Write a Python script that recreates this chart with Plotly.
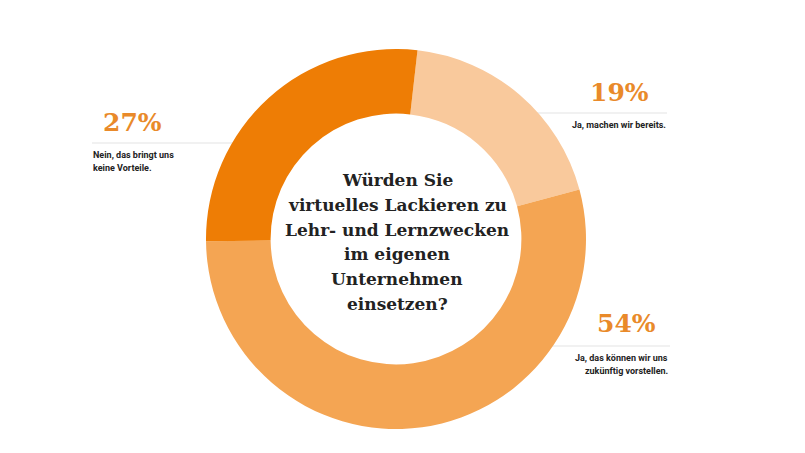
import plotly.graph_objects as go

W, H = 805, 453

labels = ["Ja, machen wir bereits.", "Ja, das können wir uns zukünftig vorstellen.", "Nein, das bringt uns keine Vorteile."]
values = [19, 54, 27]
pct_text = ["19%", "54%", "27%"]
colors = ["#F9C99C", "#F4A553", "#EE7D05"]
question_lines = ["Würden Sie", "virtuelles Lackieren zu", "Lehr- und Lernzwecken", "im eigenen", "Unternehmen", "einsetzen?"]


def fx(px):
    return px / W


def fy(py):
    return 1 - py / H


cx, cy, r = 396, 239, 190

fig = go.Figure(go.Pie(
    labels=labels, values=values, sort=False, direction="clockwise", rotation=6.5,
    hole=0.66, textinfo="none", hoverinfo="label+percent",
    marker=dict(colors=colors, line=dict(width=0)),
    domain=dict(x=[fx(cx - r), fx(cx + r)], y=[fy(cy + r), fy(cy - r)]),
    showlegend=False,
))

ann = []
qy0, qstep = 180, 24.8
for i, line in enumerate(question_lines):
    ann.append(dict(x=fx(cx + 1), y=fy(qy0 + i * qstep), xref="paper", yref="paper", text="<b>" + line + "</b>",
                    showarrow=False, xanchor="center", yanchor="middle",
                    font=dict(family="DejaVu Serif", size=17, color="#222222")))

pct_color = "#E98A2A"
pct_font = dict(family="DejaVu Serif", size=25, color=pct_color)
ann.append(dict(x=fx(619), y=fy(93), xref="paper", yref="paper", text="<b>" + pct_text[0] + "</b>", showarrow=False,
                xanchor="center", yanchor="middle", font=pct_font))
ann.append(dict(x=fx(626), y=fy(323), xref="paper", yref="paper", text="<b>" + pct_text[1] + "</b>", showarrow=False,
                xanchor="center", yanchor="middle", font=pct_font))
ann.append(dict(x=fx(132), y=fy(122), xref="paper", yref="paper", text="<b>" + pct_text[2] + "</b>", showarrow=False,
                xanchor="center", yanchor="middle", font=pct_font))

small = dict(family="Roboto", size=9, color="#222222")
ann.append(dict(x=fx(668), y=fy(125), xref="paper", yref="paper", text="<b>Ja, machen wir bereits.</b>",
                showarrow=False, xanchor="right", yanchor="middle", font=small))
ann.append(dict(x=fx(670), y=fy(358), xref="paper", yref="paper", text="<b>Ja, das können wir uns</b>",
                showarrow=False, xanchor="right", yanchor="middle", font=small))
ann.append(dict(x=fx(670), y=fy(371), xref="paper", yref="paper", text="<b>zukünftig vorstellen.</b>",
                showarrow=False, xanchor="right", yanchor="middle", font=small))
ann.append(dict(x=fx(91), y=fy(155), xref="paper", yref="paper", text="<b>Nein, das bringt uns</b>",
                showarrow=False, xanchor="left", yanchor="middle", font=small))
ann.append(dict(x=fx(91), y=fy(168), xref="paper", yref="paper", text="<b>keine Vorteile.</b>",
                showarrow=False, xanchor="left", yanchor="middle", font=small))

line_style = dict(color="#E3E3E3", width=1)
shapes = [
    dict(type="line", xref="paper", yref="paper", x0=fx(515), x1=fx(667), y0=fy(113), y1=fy(113), line=line_style, layer="below"),
    dict(type="line", xref="paper", yref="paper", x0=fx(515), x1=fx(670), y0=fy(346), y1=fy(346), line=line_style, layer="below"),
    dict(type="line", xref="paper", yref="paper", x0=fx(92), x1=fx(255), y0=fy(143), y1=fy(143), line=line_style, layer="below"),
]

fig.update_layout(width=W, height=H, margin=dict(l=0, r=0, t=0, b=0),
                  paper_bgcolor="white", plot_bgcolor="white",
                  annotations=ann, shapes=shapes)
fig.write_html("out.html", config={"displayModeBar": False},
               post_script="document.body.style.margin='0';document.body.style.overflow='hidden';")
